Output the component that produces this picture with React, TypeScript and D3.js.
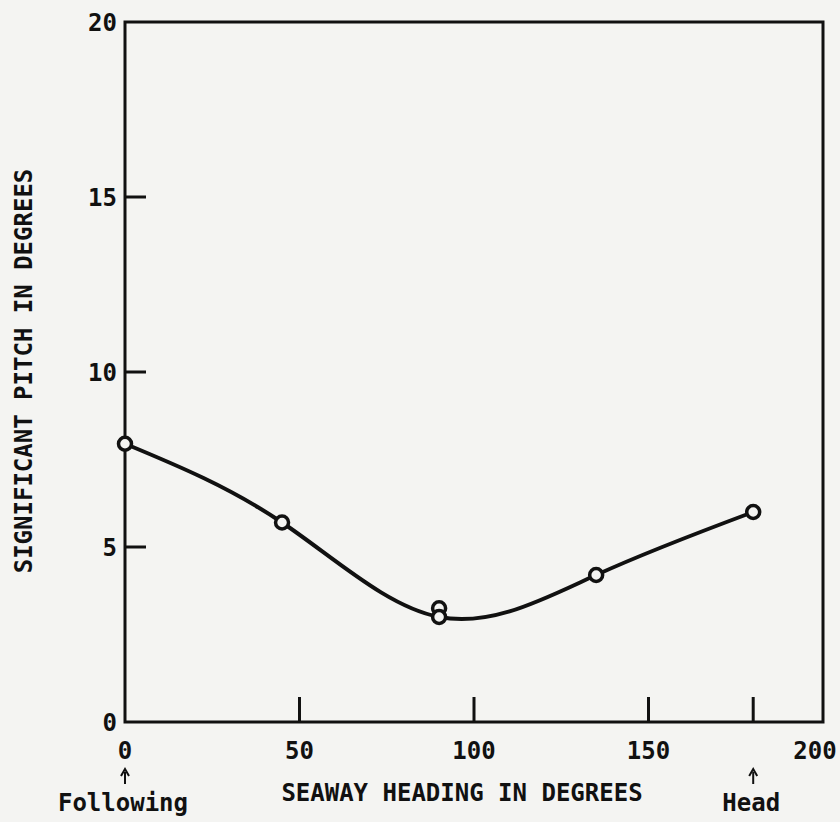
import React, { useEffect, useRef } from 'react';
import * as d3 from 'd3';

// heading (deg) and significant pitch (deg)
const headings = [0, 45, 90, 90, 135, 180];
const pitches = [7.95, 5.7, 3.25, 3.0, 4.2, 6.0];
// points the faired curve passes through
const curveHeadings = [0, 45, 90, 135, 180];
const curvePitches = [7.95, 5.7, 3.0, 4.2, 6.0];

const xTicks = [50, 100, 150, 180];
const yTicks = [5, 10, 15];
const xLabels = [0, 50, 100, 150, 200];
const yLabels = [0, 5, 10, 15, 20];
const markers = [
    { at: 0, text: 'Following' },
    { at: 180, text: 'Head' },
];

const App: React.FC = () => {
    const svgRef = useRef<SVGSVGElement>(null);

    useEffect(() => {
        if (!svgRef.current) return;
        const svg = d3.select(svgRef.current);
        svg.selectAll('*').remove();

        const width = 840;
        const height = 822;
        const left = 125, right = 823, top = 22, bottom = 722;
        const font = '"DejaVu Sans Mono", "Liberation Mono", monospace';
        const ink = '#111';

        svg.append('rect')
            .attr('width', width)
            .attr('height', height)
            .attr('fill', '#f4f4f2');

        const x = d3.scaleLinear().domain([0, 200]).range([left, right]);
        const y = d3.scaleLinear().domain([0, 20]).range([bottom, top]);

        // frame
        svg.append('rect')
            .attr('x', left)
            .attr('y', top)
            .attr('width', right - left)
            .attr('height', bottom - top)
            .attr('fill', 'none')
            .attr('stroke', ink)
            .attr('stroke-width', 3);

        // inward ticks
        xTicks.forEach(t => {
            svg.append('line')
                .attr('x1', x(t)).attr('x2', x(t))
                .attr('y1', bottom).attr('y2', bottom - 25)
                .attr('stroke', ink).attr('stroke-width', 3);
        });
        yTicks.forEach(t => {
            svg.append('line')
                .attr('x1', left).attr('x2', left + 21)
                .attr('y1', y(t)).attr('y2', y(t))
                .attr('stroke', ink).attr('stroke-width', 3);
        });

        const label = (tx: number, ty: number, s: string | number, anchor = 'middle') =>
            svg.append('text')
                .attr('x', tx)
                .attr('y', ty)
                .attr('text-anchor', anchor)
                .attr('font-family', font)
                .attr('font-weight', 'bold')
                .attr('font-size', '24px')
                .attr('fill', ink)
                .text(s);

        // tick labels
        xLabels.forEach(t => label(t === 200 ? x(t) - 8 : x(t), 759, t));
        yLabels.forEach(t => label(117, y(t) + 9, t, 'end'));

        // arrows + direction words
        markers.forEach(m => {
            const ax = x(m.at);
            svg.append('line')
                .attr('x1', ax).attr('x2', ax)
                .attr('y1', 772).attr('y2', 784)
                .attr('stroke', ink).attr('stroke-width', 2);
            svg.append('path')
                .attr('d', `M${ax - 4},${776} L${ax},${769} L${ax + 4},${776}`)
                .attr('fill', 'none')
                .attr('stroke', ink)
                .attr('stroke-width', 2);
            label(ax - 2, 811, m.text);
        });

        // axis titles
        label(462, 801, 'SEAWAY HEADING IN DEGREES');

        svg.append('text')
            .attr('transform', `translate(32, 371) rotate(-90)`)
            .attr('text-anchor', 'middle')
            .attr('font-family', font)
            .attr('font-weight', 'bold')
            .attr('font-size', '24px')
            .attr('fill', ink)
            .text('SIGNIFICANT PITCH IN DEGREES');

        // faired curve
        const line = d3.line<number>()
            .x((_, i) => x(curveHeadings[i]))
            .y(d => y(d))
            .curve(d3.curveNatural);

        svg.append('path')
            .attr('d', line(curvePitches) as string)
            .attr('fill', 'none')
            .attr('stroke', ink)
            .attr('stroke-width', 4);

        // data points
        pitches.forEach((p, i) => {
            svg.append('circle')
                .attr('cx', x(headings[i]))
                .attr('cy', y(p))
                .attr('r', 6.5)
                .attr('fill', '#f4f4f2')
                .attr('stroke', ink)
                .attr('stroke-width', 3.5);
        });
    }, []);

    return (
        <svg
            ref={svgRef}
            width={840}
            height={822}
            style={{ position: 'absolute', left: 0, top: 0, display: 'block' }}
        />
    );
};

export default App;
